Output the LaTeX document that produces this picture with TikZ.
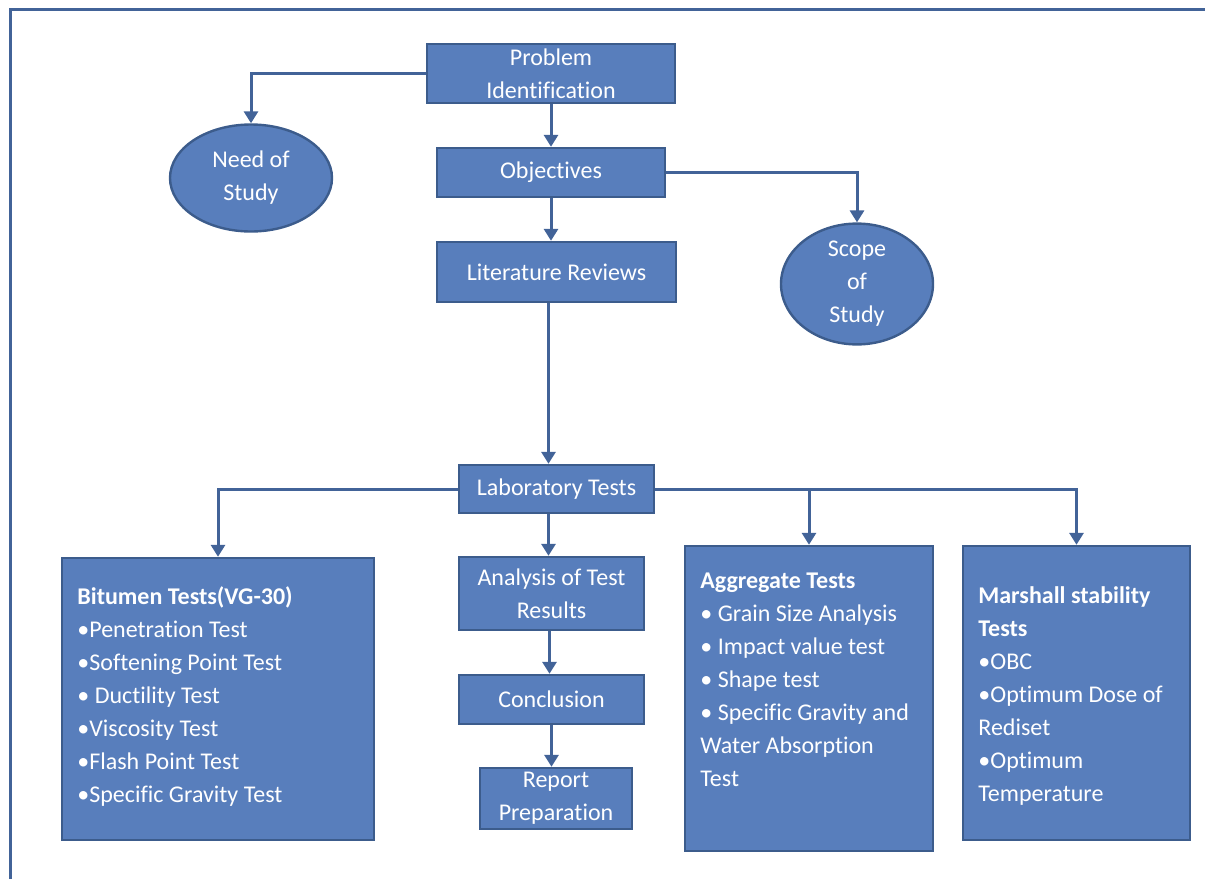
\documentclass[tikz,border=0pt]{standalone}
\usepackage{fontspec}
\setmainfont{Carlito}[Ligatures=NoCommon]
\usetikzlibrary{shapes.geometric,arrows.meta}
\definecolor{boxfill}{RGB}{88,126,188}
\definecolor{boxline}{RGB}{60,92,140}
\definecolor{linkline}{RGB}{66,99,152}
\begin{document}
\begin{tikzpicture}[x=0.5pt,y=-0.5pt,
  every node/.style={font=\fontsize{12}{16.5}\selectfont,text=white},
  stepbox/.style={draw=boxline,fill=boxfill,line width=1.2pt,align=center,inner sep=0pt},
  roundbox/.style={ellipse,draw=boxline,fill=boxfill,line width=1.2pt,align=center,inner sep=0pt},
  listtext/.style={anchor=north west,align=left,inner sep=0pt},
  link/.style={draw=linkline,line width=1.5pt,-{Triangle[width=7pt,length=6pt]}}]
  \useasboundingbox (0,0) rectangle (1205,879);
  \draw[linkline,line width=1.5pt]
  (10,879)
  -- (10,9)
  -- (1205,9);
  % upper part
  \node[stepbox,minimum width=124pt,minimum height=29.5pt] (prob) at (551,73.5) {Problem\\Identification};
  \node[stepbox,minimum width=114pt,minimum height=24.5pt] (obj) at (551,172.5) {Objectives};
  \node[stepbox,minimum width=119.5pt,minimum height=30pt] (lit) at (556.5,272) {Literature Reviews};
  \node[roundbox,minimum width=81pt,minimum height=53.5pt] (need) at (251,178) {Need of\\Study};
  \node[roundbox,minimum width=76pt,minimum height=54pt] (scope) at (857,284) {Scope\\of\\Study};
  \node[stepbox,minimum width=97.5pt,minimum height=24pt] (lab) at (556.5,489) {Laboratory Tests};
  % test boxes
  \node[stepbox,minimum width=156pt,minimum height=141pt] (bit) at (218,699) {};
  \node[stepbox,minimum width=124pt,minimum height=152.5pt] (agg) at (809,698.5) {};
  \node[stepbox,minimum width=113.5pt,minimum height=147pt] (mar) at (1076.5,693) {};
  \node[listtext] (bittext) at (77,586) {\textbf{Bitumen Tests(VG-30)}\\•Penetration Test\\•Softening Point Test\\• Ductility Test\\•Viscosity Test\\•Flash Point Test\\•Specific Gravity Test};
  \node[listtext] (aggtext) at (700,573) {\textbf{Aggregate Tests}\\• Grain Size Analysis\\• Impact value test\\• Shape test\\• Specific Gravity and\\Water Absorption\\Test};
  \node[listtext] (martext) at (978,586) {\textbf{Marshall stability}\\\textbf{Tests}\\•OBC\\•Optimum Dose of\\Rediset\\•Optimum\\Temperature};
  % lower chain
  \node[stepbox,minimum width=92.5pt,minimum height=36.5pt] (ana) at (551.5,593.5) {Analysis of Test\\Results};
  \node[stepbox,minimum width=92.5pt,minimum height=24.5pt] (conc) at (551.5,699.5) {Conclusion};
  \node[stepbox,minimum width=76pt,minimum height=30.5pt] (rep) at (556,798.5) {Report\\Preparation};
  % connectors
  \draw[link] (prob.west) -| (need.north);
  \draw[link] (prob.south) -- (obj.north);
  \draw[link] (obj.east) -| (scope.north);
  \draw[link] (obj.south) -- (obj.south |- lit.north);
  \draw[link] ([xshift=-4pt]lit.south) -- ([xshift=-4pt]lab.north);
  \draw[link] (lab.west) -| (bit.north);
  \draw[link] (lab.east) -| (agg.north);
  \draw[link] (lab.east) -| (mar.north);
  \draw[link] ([xshift=-4pt]lab.south) -- ([xshift=-4pt]lab.south |- ana.north);
  \draw[link] ([xshift=-1pt]ana.south) -- ([xshift=-1pt]conc.north);
  \draw[link] (conc.south) -- (conc.south |- rep.north);
\end{tikzpicture}
\end{document}
